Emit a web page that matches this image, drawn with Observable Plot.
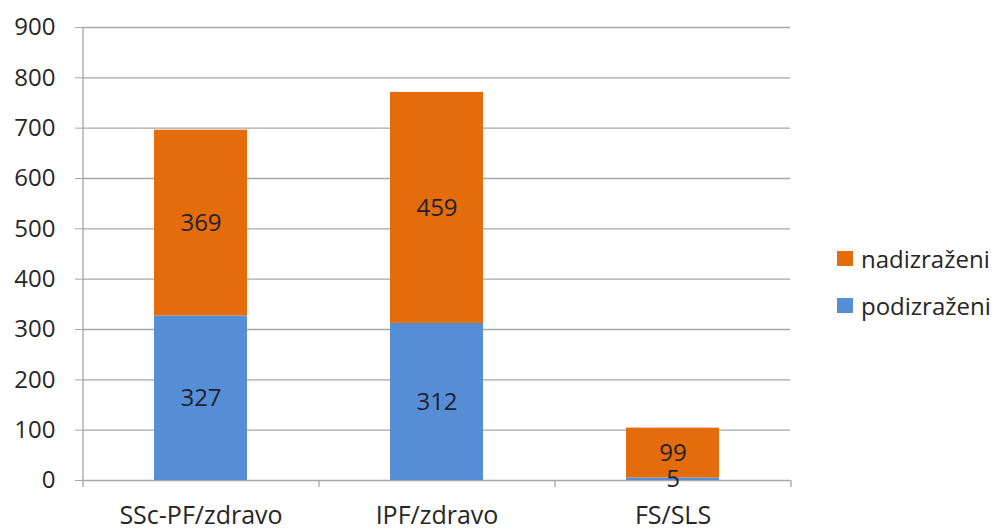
<!DOCTYPE html>
<html>
<head>
<meta charset="utf-8">
<script src="https://cdn.jsdelivr.net/npm/d3@7"></script>
<script src="https://cdn.jsdelivr.net/npm/@observablehq/plot@0.6"></script>
<style>
  html, body { margin: 0; padding: 0; background: #fff; }
  #wrap { position: relative; width: 995px; height: 531px; font-family: "Open Sans", sans-serif; }
  #legend { position: absolute; left: 837px; top: 241px; font-size: 24px; color: #262626; }
  #legend .item { display: flex; align-items: center; height: 34px; margin-bottom: 13px; }
  #legend .sw { width: 16px; height: 15px; margin-right: 8px; }
</style>
</head>
<body>
<div id="wrap"><div id="legend"></div></div>
<script>
// Differentially expressed genes per comparison
const categories = ["SSc-PF/zdravo", "IPF/zdravo", "FS/SLS"];
const podizrazeni = [327, 312, 5];
const nadizrazeni = [369, 459, 99];
const seriesNames = ["podizraženi", "nadizraženi"];
const seriesColors = ["#558ED5", "#E46C0A"];
const legendOrder = ["nadizraženi", "podizraženi"];
const yTicks = [0, 100, 200, 300, 400, 500, 600, 700, 800, 900];

const rows = [];
categories.forEach((c, i) => {
  rows.push({category: c, series: seriesNames[0], value: podizrazeni[i]});
  rows.push({category: c, series: seriesNames[1], value: nadizrazeni[i]});
});

const W = 995, H = 531;
const mL = 82, mR = 205, mT = 27, mB = 51;
const step = (W - mL - mR) / categories.length;
const gray = "#a6a6a6";
const ink = "#262626";

const chart = Plot.plot({
  width: W,
  height: H,
  marginLeft: mL,
  marginRight: mR,
  marginTop: mT,
  marginBottom: mB,
  style: {fontFamily: "Open Sans, sans-serif", fontSize: "24px", color: ink, background: "#fff", overflow: "visible"},
  x: {domain: categories, paddingInner: 0.606, paddingOuter: 0.303, label: null},
  y: {domain: [0, 900], label: null},
  color: {domain: seriesNames, range: seriesColors},
  marks: [
    Plot.ruleY(yTicks, {stroke: gray, strokeWidth: 1.3}),
    Plot.axisY({ticks: yTicks, tickSize: 7, tickPadding: 20, stroke: gray, fill: ink, fontSize: 24, tickFormat: d => String(d)}),
    // left axis line and category boundary ticks
    Plot.ruleX([categories[0]], {dx: -step / 2, y1: -14, y2: 900, stroke: gray, strokeWidth: 1.3}),
    Plot.ruleX(categories.slice(1), {dx: -step / 2, y1: -14, y2: 0, stroke: gray, strokeWidth: 1.3}),
    Plot.ruleX([categories[categories.length - 1]], {dx: step / 2, y1: -14, y2: 0, stroke: gray, strokeWidth: 1.3}),
    Plot.barY(rows, Plot.stackY({x: "category", y: "value", fill: "series", order: seriesNames})),
    Plot.text(rows, Plot.stackY({x: "category", y: "value", z: "series", order: seriesNames, text: "value", fill: "#1f2230", fontSize: 24})),
    Plot.axisX({tickSize: 0, tickPadding: 26, fill: ink, fontSize: 25})
  ]
});

document.getElementById("wrap").prepend(chart);

const legend = document.getElementById("legend");
legendOrder.forEach(name => {
  const item = document.createElement("div");
  item.className = "item";
  const sw = document.createElement("span");
  sw.className = "sw";
  sw.style.background = seriesColors[seriesNames.indexOf(name)];
  const label = document.createElement("span");
  label.textContent = name;
  item.append(sw, label);
  legend.append(item);
});
</script>
</body>
</html>
